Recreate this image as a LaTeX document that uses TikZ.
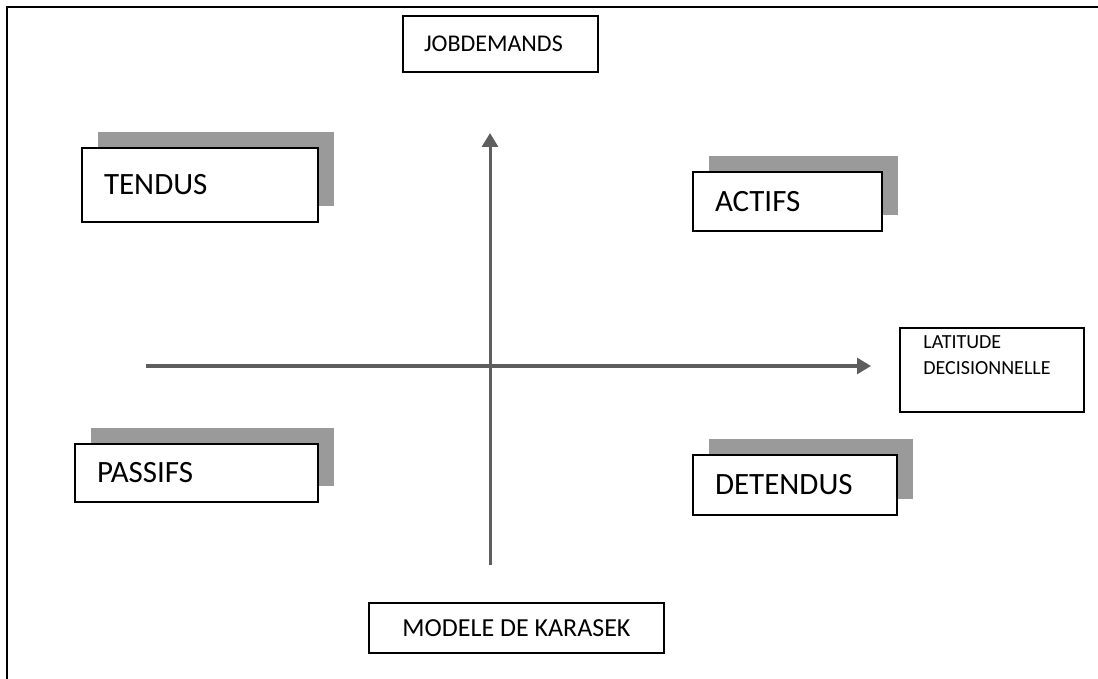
\documentclass[tikz,border=0pt]{standalone}
\usepackage{fontspec}
\setmainfont{Carlito}
\usetikzlibrary{arrows.meta,shadows}
\definecolor{karasekAxis}{HTML}{5E5E5E}
\definecolor{karasekShadow}{HTML}{9A9A9A}
\definecolor{karasekFrame}{HTML}{000000}

\begin{document}
\begin{tikzpicture}[
    x=0.5pt,y=-0.5pt,>=Triangle,
    quadrant/.style={draw=black,fill=white,line width=0.8pt,align=left,inner xsep=11pt,inner ysep=0pt,
        font=\fontsize{15.5}{18}\selectfont,
        drop shadow={shadow xshift=8pt,shadow yshift=8pt,opacity=1,fill=karasekShadow,draw=none}},
    titlebox/.style={draw=black,line width=0.8pt,font=\fontsize{12}{14}\selectfont,inner ysep=0pt},
    axis/.style={-{Triangle[length=7pt,width=8pt]},draw=karasekAxis,line width=1.5pt}
]
\useasboundingbox (0,0) rectangle (1098,679);
% cadre
\draw[karasekFrame,line width=1pt] (1098,7) -- (7,7) -- (7,679);

% axes
\coordinate (xstart) at (146,366);
\coordinate (xend) at (871,366);
\coordinate (ystart) at (490,565);
\coordinate (yend) at (490,133);
\draw[axis] (xstart) -- (xend);
\draw[axis] (ystart) -- (yend);

% quadrants
\node[quadrant,text width=96pt,minimum height=37pt] (tendus) at (200,185) {TENDUS};
\node[quadrant,text width=72.5pt,minimum height=29.5pt] (actifs) at (787.5,201.5) {ACTIFS};
\node[quadrant,text width=99.5pt,minimum height=29pt] (passifs) at (196.5,473) {PASSIFS};
\node[quadrant,text width=80pt,minimum height=30pt] (detendus) at (795,485) {DETENDUS};

% titres
\node[titlebox,align=left,inner xsep=10.5pt,text width=76.5pt,minimum height=28pt] (jobdemands) at (500.5,44) {JOBDEMANDS};
\node[titlebox,font=\fontsize{13}{15}\selectfont,minimum width=147.5pt,minimum height=25pt] (karasek) at (516.5,628) {MODELE DE KARASEK};
\node[titlebox,minimum width=92pt,minimum height=42pt] (latitude) at (992,370) {};
\node[anchor=north west,inner sep=0pt,align=left,font=\fontsize{10}{13}\selectfont] (latitudetext) at (923,335) {LATITUDE\\DECISIONNELLE};
\end{tikzpicture}
\end{document}
